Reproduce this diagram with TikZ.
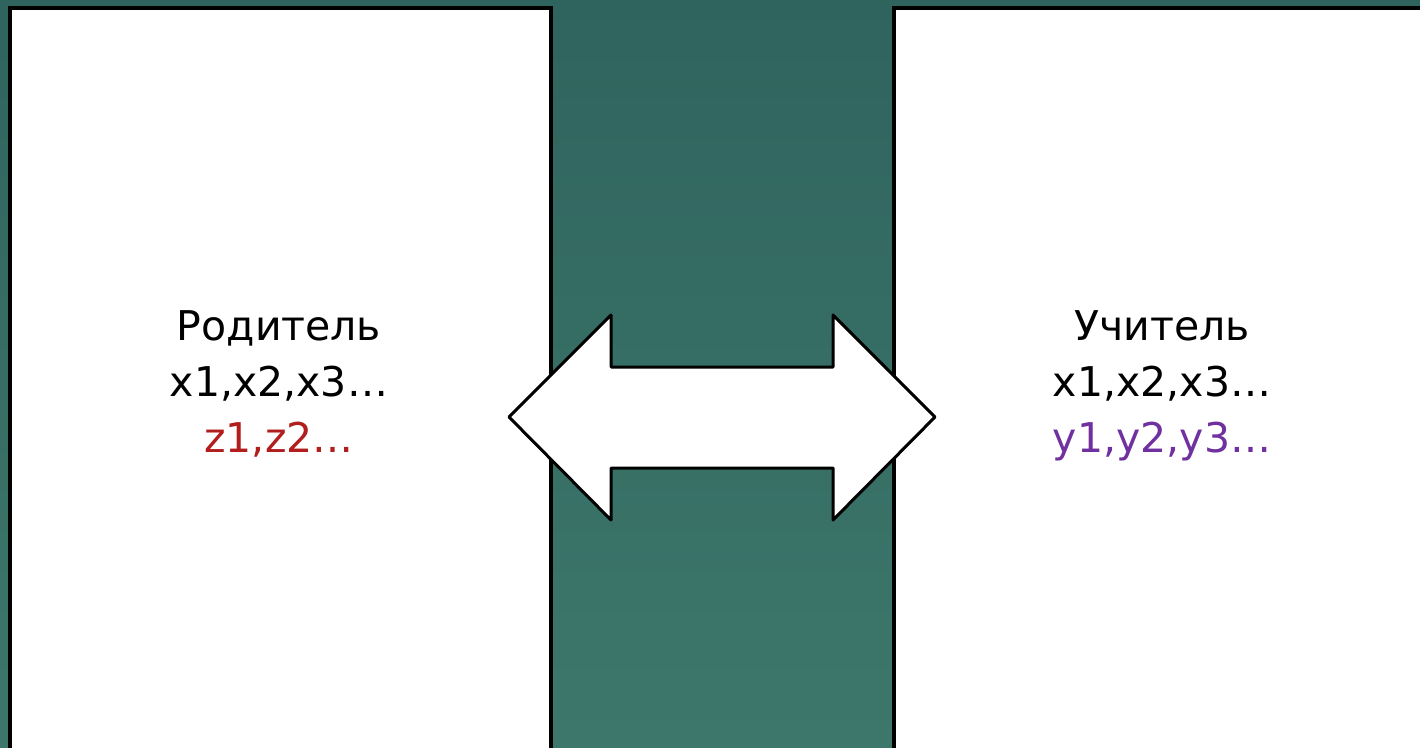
\documentclass[tikz,border=0pt]{standalone}
\usepackage{fontspec}
\setmainfont{DejaVu Sans}
\definecolor{bgtop}{RGB}{47,100,94}
\definecolor{bgbot}{RGB}{61,119,107}
\definecolor{zred}{RGB}{178,30,30}
\definecolor{ypurple}{RGB}{112,48,160}
\tikzset{
  panel/.style={draw=black, line width=4pt, fill=white},
  dblarrow/.style={draw=black, line width=3pt, fill=white, line join=round},
  lbl/.style={anchor=base, inner sep=0pt, font=\fontsize{41}{50}\selectfont}
}
\begin{document}
\begin{tikzpicture}[x=1pt,y=-1pt]
\useasboundingbox (0,0) rectangle (1420,747);
\shade[top color=bgtop, bottom color=bgbot] (0,0) rectangle (1420,747);
\clip (0,0) rectangle (1420,747);
\draw[panel] (10,8) rectangle (551,760);
\draw[panel] (894,8) rectangle (1440,760);
\draw[dblarrow] (509,417) -- (611,315) -- (611,367) -- (833,367) -- (833,315)
  -- (935,417) -- (833,520) -- (833,468) -- (611,468) -- (611,520) -- cycle;
\node[lbl] (p1) at (279,340) {Родитель};
\node[lbl] (p2) at (279,396) {x1,x2,x3…};
\node[lbl, text=zred] (p3) at (279,452) {z1,z2…};
\node[lbl] (t1) at (1162,340) {Учитель};
\node[lbl] (t2) at (1162,396) {x1,x2,x3…};
\node[lbl, text=ypurple] (t3) at (1162,452) {y1,y2,y3…};
\end{tikzpicture}
\end{document}
